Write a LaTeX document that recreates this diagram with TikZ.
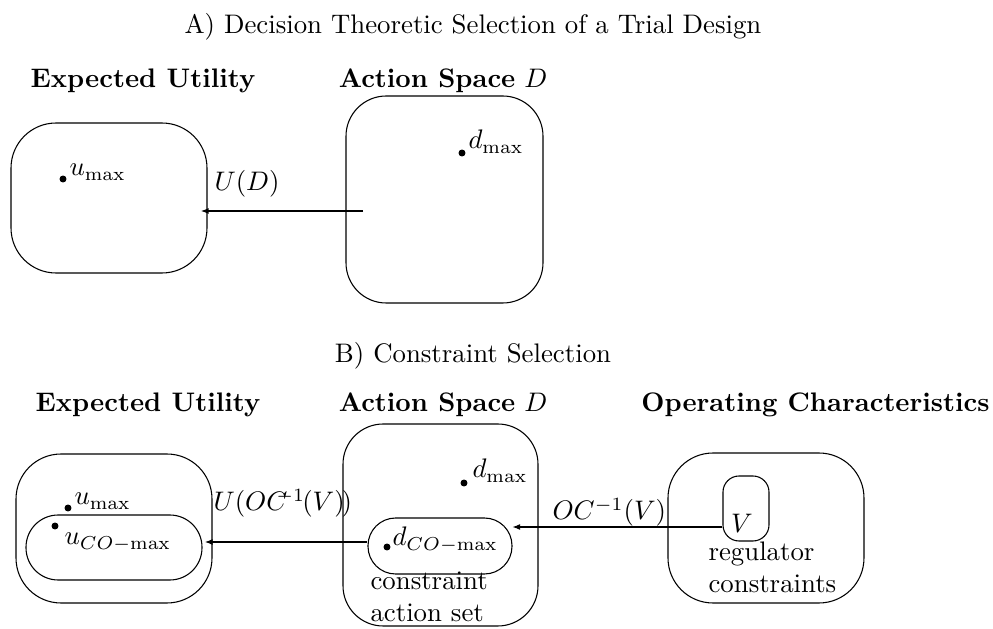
\documentclass[tikz,border=0pt]{standalone}
\usetikzlibrary{arrows.meta,fit}
\begin{document}
\begin{tikzpicture}[x=0.373pt,y=-0.373pt,
  box/.style={draw, rounded corners=#1, inner sep=0pt},
  box/.default=16pt,
  dot/.style={circle, fill, inner sep=0pt, minimum size=2.6pt},
  lbl/.style={anchor=base west, inner sep=0pt},
  head/.style={anchor=base, inner sep=0pt},
  twoline/.style={anchor=base west, inner sep=0pt, align=left},
  arr/.style={-{Latex[length=2.8pt,width=2.2pt]}},
]
\useasboundingbox (0,0) rectangle (993,629);

% ---------- A) decision theoretic selection ----------
\node[head] (titleA) at (473,34) {A) Decision Theoretic Selection of a Trial Design};
\node[head] (hUA) at (143,88) {\textbf{Expected Utility}};
\node[head] (hDA) at (443,88) {\textbf{Action Space} $D$};

\node[box=16.8pt, fit={(11,123) (207,273)}] (UA) {};
\node[box=15pt, fit={(346,96) (543,303)}] (DA) {};

\node[dot] (umaxA) at (63,179) {};
\node[lbl] (umaxAl) at ([shift={(6,-3)}]umaxA.center) {$u_{\max}$};
\node[dot] (dmaxA) at (462,153) {};
\node[lbl] (dmaxAl) at ([shift={(6,-4)}]dmaxA.center) {$d_{\max}$};

\coordinate (srcA) at (363,211);
\coordinate (tipA) at (201,211);
\draw[arr] (srcA) -- (tipA);
\node[lbl] (UDl) at (214,191) {$U(D)$};

% ---------- B) constraint selection ----------
\node[head] (titleB) at (473,363) {B) Constraint Selection};
\node[head] (hUB) at (148,412) {\textbf{Expected Utility}};
\node[head] (hDB) at (443,412) {\textbf{Action Space} $D$};
\node[head, anchor=base east] (hOB) at (990,412) {\textbf{Operating Characteristics}};

\node[box=16.8pt, fit={(16,454) (212,603)}] (UB) {};
\node[box=12pt, fit={(26,515) (202,580)}] (UBin) {};
\node[box=15pt, fit={(343,424) (538,626)}] (DB) {};
\node[box=10.3pt, fit={(368,518) (512,574)}] (DBin) {};
\node[box=16.8pt, fit={(668,453) (864,603)}] (OB) {};
\node[box=6pt, fit={(723,476) (769,541)}] (VB) {};

\node[dot] (umaxB) at (68,508) {};
\node[lbl] (umaxBl) at ([shift={(6,-3)}]umaxB.center) {$u_{\max}$};
\node[dot] (ucoB) at (55,526) {};
\node[lbl] (ucoBl) at ([shift={(9,19)}]ucoB.center) {$u_{CO-\max}$};
\node[dot] (dmaxB) at (464,483) {};
\node[lbl] (dmaxBl) at ([shift={(8,-5)}]dmaxB.center) {$d_{\max}$};
\node[dot] (dcoB) at (387,547) {};
\node[lbl] (dcoBl) at ([shift={(5,-1)}]dcoB.center) {$d_{CO-\max}$};

% the base of a two-line node is that of its last line
\node[twoline] (cas) at (370,622) {constraint\\action set};
\node[twoline] (regc) at (708,593) {regulator\\constraints};
\node[head] (Vl) at (742,533) {$V$};

\coordinate (yB1) at (0,542);
\coordinate (tipB1) at (205,542);
\draw[arr] (DBin.west |- yB1) -- (tipB1);
\node[lbl] (UOCl) at (213,511) {$U(OC^{\mkern-9mu-1}\mkern-2mu(V)\mkern-2mu)$};

\coordinate (yB2) at (0,527);
\draw[arr] (VB.west |- yB2) -- (DBin.east |- yB2);
\node[lbl] (OCl) at (552,520) {$OC^{-1}(V)$};
\end{tikzpicture}
\end{document}
